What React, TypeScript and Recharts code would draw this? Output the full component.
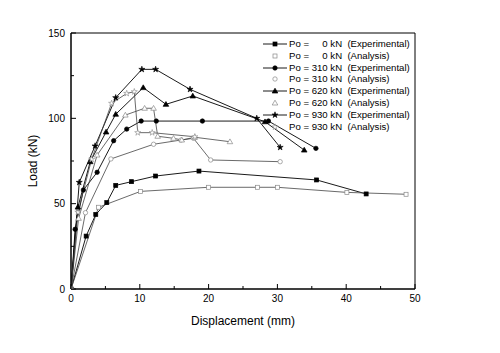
import { LineChart, Line, XAxis, YAxis, ReferenceArea } from 'recharts'

const xTicks = [0, 5, 10, 15, 20, 25, 30, 35, 40, 45, 50]
const yTicks = [0, 25, 50, 75, 100, 125, 150]

// Po = 0 kN
const exp0X = [0, 2.2, 3.6, 5.2, 6.5, 8.8, 12.3, 18.6, 35.7, 42.9]
const exp0Y = [0, 31, 43.7, 50.6, 60.7, 62.9, 66.2, 69.1, 63.9, 55.7]
const ana0X = [0, 4.0, 10.1, 20.0, 27.1, 30.0, 40.1, 48.7]
const ana0Y = [0, 47.9, 57.2, 59.6, 59.6, 59.6, 56.6, 55.5]

// Po = 310 kN
const exp310X = [0, 0.6, 1.8, 3.8, 6.2, 8.1, 10.2, 12.4, 19.1, 28.7, 35.6]
const exp310Y = [0, 35, 58, 68.4, 86.9, 93.7, 98.4, 98.4, 98.4, 98.4, 82.4]
const ana310X = [0, 2.1, 5.8, 12.0, 16.0, 17.8, 20.3, 30.4]
const ana310Y = [0, 44.7, 76.2, 84.8, 87.3, 88.3, 75.6, 74.6]

// Po = 620 kN
const exp620X = [0, 1.0, 2.8, 5.1, 6.5, 10.5, 13.8, 17.7, 28.2, 33.9]
const exp620Y = [0, 48, 74.6, 92, 102.4, 118, 108.2, 113.1, 98, 81.4]
const ana620X = [0, 1.1, 3.8, 7.9, 10.7, 12.0, 12.6, 14.9, 16.1, 18.0, 23.1]
const ana620Y = [0, 41.4, 78.5, 101.9, 105.9, 105.9, 89.5, 88.3, 87.3, 88.9, 86.3]

// Po = 930 kN
const exp930X = [0, 1.2, 3.5, 6.5, 10.3, 12.3, 17.3, 27.0, 30.4]
const exp930Y = [0, 62.5, 83.8, 112.1, 128.7, 128.7, 117, 100, 83]
const ana930X = [0, 1.0, 3.0, 5.9, 8.1, 9.2, 9.7, 11.8, 18.0]
const ana930Y = [0, 45, 76, 108.8, 114.6, 115.6, 91.6, 91.6, 89.2]

const zip = (xs: number[], ys: number[]) => xs.map((x, i) => ({ x, y: ys[i] }))

type Shape = 'square' | 'circle' | 'triangle' | 'star'

const series = [
    { id: 'e0', label: 'Po =     0 kN  (Experimental)', data: zip(exp0X, exp0Y), shape: 'square' as Shape, filled: true },
    { id: 'a0', label: 'Po =     0 kN  (Analysis)', data: zip(ana0X, ana0Y), shape: 'square' as Shape, filled: false },
    { id: 'e310', label: 'Po = 310 kN  (Experimental)', data: zip(exp310X, exp310Y), shape: 'circle' as Shape, filled: true },
    { id: 'a310', label: 'Po = 310 kN  (Analysis)', data: zip(ana310X, ana310Y), shape: 'circle' as Shape, filled: false },
    { id: 'e620', label: 'Po = 620 kN  (Experimental)', data: zip(exp620X, exp620Y), shape: 'triangle' as Shape, filled: true },
    { id: 'a620', label: 'Po = 620 kN  (Analysis)', data: zip(ana620X, ana620Y), shape: 'triangle' as Shape, filled: false },
    { id: 'e930', label: 'Po = 930 kN  (Experimental)', data: zip(exp930X, exp930Y), shape: 'star' as Shape, filled: true },
    { id: 'a930', label: 'Po = 930 kN  (Analysis)', data: zip(ana930X, ana930Y), shape: 'star' as Shape, filled: false },
]

function Marker({ shape, filled, cx, cy }: { shape: Shape; filled: boolean; cx: number; cy: number }) {
    const fill = filled ? '#000' : '#fff'
    const stroke = filled ? '#000' : '#888'
    if (shape === 'square') {
        return <rect x={cx - 2} y={cy - 2} width={4} height={4} fill={fill} stroke={stroke} strokeWidth={0.7} />
    }
    if (shape === 'circle') {
        return <circle cx={cx} cy={cy} r={2.2} fill={fill} stroke={stroke} strokeWidth={0.7} />
    }
    if (shape === 'triangle') {
        return (
            <polygon
                points={`${cx},${cy - 2.8} ${cx - 2.8},${cy + 2} ${cx + 2.8},${cy + 2}`}
                fill={fill}
                stroke={stroke}
                strokeWidth={0.7}
            />
        )
    }
    const pts: string[] = []
    for (let i = 0; i < 10; i++) {
        const r = i % 2 === 0 ? 3.2 : 1.2
        const a = -Math.PI / 2 + (i * Math.PI) / 5
        pts.push(`${cx + r * Math.cos(a)},${cy + r * Math.sin(a)}`)
    }
    return <polygon points={pts.join(' ')} fill={fill} stroke={stroke} strokeWidth={0.6} />
}

function XTick({ x, y, payload }: any) {
    const v = payload.value
    const major = v % 10 === 0
    const y0 = y - 6
    return (
        <g>
            <line x1={x} x2={x} y1={y0} y2={y0 - (major ? 5 : 3)} stroke="#000" />
            {major && (
                <text x={x} y={y} dy="0.71em" textAnchor="middle" fontSize={10} fill="#000">
                    {v}
                </text>
            )}
        </g>
    )
}

function YTick({ x, y, payload }: any) {
    const v = payload.value
    const major = v % 50 === 0
    const x0 = x + 6
    return (
        <g>
            <line x1={x0} x2={x0 + (major ? 5 : 3)} y1={y} y2={y} stroke="#000" />
            {major && (
                <text x={x} y={y} dy="0.35em" textAnchor="end" fontSize={10} fill="#000">
                    {v}
                </text>
            )}
        </g>
    )
}

export default function App() {
    return (
        <div
            style={{
                position: 'absolute',
                left: 0,
                top: 0,
                width: 500,
                height: 353,
                background: '#fff',
                fontFamily: 'Arial, "Liberation Sans", sans-serif',
            }}
        >
            <LineChart width={500} height={353} margin={{ top: 33, right: 85, bottom: 24, left: 0 }}>
                <XAxis
                    type="number"
                    dataKey="x"
                    domain={[0, 50]}
                    ticks={xTicks}
                    interval={0}
                    allowDataOverflow
                    tickSize={0}
                    tickMargin={6}
                    height={40}
                    axisLine={{ stroke: '#000' }}
                    tick={XTick}
                    label={{ value: 'Displacement (mm)', position: 'insideBottom', offset: 4, fontSize: 12, fill: '#000' }}
                />
                <YAxis
                    type="number"
                    dataKey="y"
                    domain={[0, 150]}
                    ticks={yTicks}
                    interval={0}
                    allowDataOverflow
                    tickSize={0}
                    tickMargin={6}
                    width={71}
                    axisLine={{ stroke: '#000' }}
                    tick={YTick}
                    label={{ value: 'Load (kN)', angle: -90, position: 'center', dx: -3, fontSize: 12, fill: '#000' }}
                />
                <ReferenceArea x1={0} x2={50} y1={0} y2={150} fill="none" stroke="#000" strokeWidth={1} ifOverflow="visible" />
                {series.map((s) => (
                    <Line
                        key={s.id}
                        data={s.data}
                        dataKey="y"
                        type="linear"
                        stroke={s.filled ? '#000' : '#444'}
                        strokeWidth={s.filled ? 0.9 : 0.8}
                        isAnimationActive={false}
                        dot={(p: any) => (
                            <Marker key={`${s.id}-${p.index}`} shape={s.shape} filled={s.filled} cx={p.cx} cy={p.cy} />
                        )}
                        activeDot={false}
                    />
                ))}
            </LineChart>
            <div style={{ position: 'absolute', left: 262, top: 38 }}>
                {series.map((s) => (
                    <div key={s.id} style={{ display: 'flex', alignItems: 'center', height: 11.85 }}>
                        <svg width={26} height={10} style={{ display: 'block' }}>
                            {s.filled && <line x1={1} x2={25} y1={5} y2={5} stroke="#000" strokeWidth={0.9} />}
                            <Marker shape={s.shape} filled={s.filled} cx={13} cy={5} />
                        </svg>
                        <span style={{ whiteSpace: 'pre', fontSize: 9.6, marginLeft: 1, color: '#000', lineHeight: '10px' }}>
                            {s.label}
                        </span>
                    </div>
                ))}
            </div>
        </div>
    )
}
